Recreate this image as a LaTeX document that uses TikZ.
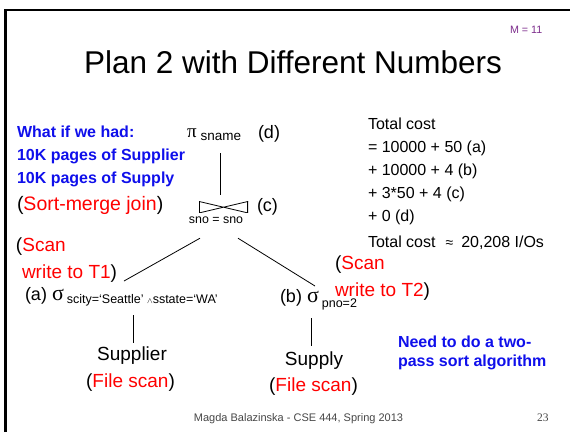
\documentclass[tikz,border=0pt]{standalone}
\usepackage{fontspec}
\usetikzlibrary{calc}
\setmainfont{Liberation Sans}
\newfontfamily\serifgreek{Liberation Serif}
\newcommand\fs[1]{\fontsize{#1}{#1}\selectfont}
\definecolor{slideblue}{RGB}{15,15,235}
\definecolor{slidered}{RGB}{255,0,0}
\definecolor{slidepurple}{RGB}{125,45,140}
\definecolor{footgray}{RGB}{70,70,70}
\tikzset{
  txt/.style={inner sep=0pt, outer sep=0pt, anchor=base west},
  bluebold/.style={txt, text=slideblue, font=\fs{16}\bfseries},
  cost/.style={txt, font=\fs{16}},
  big/.style={txt, font=\fs{19}},
  edge/.style={draw=black, line width=0.8pt},
  bowtie/.style={inner sep=0pt, minimum width=49pt, minimum height=11.5pt,
    path picture={\draw[line width=0.8pt]
      (path picture bounding box.north west) -- (path picture bounding box.south east)
      (path picture bounding box.south west) -- (path picture bounding box.north east);
      \draw[line width=1.1pt]
      (path picture bounding box.north west) -- (path picture bounding box.south west)
      (path picture bounding box.north east) -- (path picture bounding box.south east);}}
}
\begin{document}
\begin{tikzpicture}[x=1pt,y=-1pt]
\useasboundingbox (0,0) rectangle (570,432);
% slide frame
\draw[line width=2.5pt] (5.3,432) -- (5.3,10.2) -- (570,10.2);
% title
\node[txt, font=\fs{31.5}] (title) at (84,73) {Plan 2 with Different Numbers};
\node[txt, text=slidepurple, font=\fs{10.7}] (mnote) at (510,33) {M = 11};
% blue question
\node[bluebold] (q1) at (17,137) {What if we had:};
\node[bluebold] (q2) at (17,160) {10K pages of Supplier};
\node[bluebold] (q3) at (17,183) {10K pages of Supply};
\node[txt, font=\fs{19.5}] (smj) at (17,210) {(\textcolor{slidered}{Sort-merge join})};
% projection
\node[txt, text depth=0pt] (proj) at (187,137.5) {{\serifgreek\fs{19}π}\hspace{4pt}{\fs{13.5}\raisebox{-3.2pt}{sname}}};
\node[txt, font=\fs{18}] (dlab) at (258,138) {(d)};
% join
\node[bowtie] (join) at (223.5,207.2) {};
\node[txt, font=\fs{18}] (clab) at (257,211) {(c)};
\node[inner sep=0pt, anchor=base, text depth=0pt, font=\fs{12.4}] (cond) at (216,223) {sno = sno};
% left scan note
\node[big] (scanl1) at (16,251) {(\textcolor{slidered}{Scan}};
\node[big] (scanl2) at (22,278) {\textcolor{slidered}{write to T1})};
% selection a
\node[txt, font=\fs{18}] (sela) at (25,300) {(a) {\serifgreek\fs{22}σ}\,{\fs{12.5}\raisebox{-3pt}{scity=‘Seattle’ {\fs{8}$\wedge$}sstate=‘WA’}}};
% selection b
\node[txt, font=\fs{18}] (selb) at (280,302) {(b) {\serifgreek\fs{22}σ}\,{\fs{12.5}\raisebox{-5pt}{pno=2}}};
% right scan note
\node[big] (scanr1) at (335,269) {(\textcolor{slidered}{Scan}};
\node[big] (scanr2) at (335,296) {\textcolor{slidered}{write to T2})};
% leaves
\node[inner sep=0pt, anchor=base, font=\fs{19}] (supplier) at (132,360) {Supplier};
\node[inner sep=0pt, anchor=base, font=\fs{19}] (fsa) at (130.5,387) {(\textcolor{slidered}{File scan})};
\node[inner sep=0pt, anchor=base, font=\fs{19}] (supply) at (314,365) {Supply};
\node[inner sep=0pt, anchor=base, font=\fs{19}] (fsb) at (313.5,391) {(\textcolor{slidered}{File scan})};
% cost column
\node[cost] (c1) at (368,129) {Total cost};
\node[cost] (c2) at (368,152) {= 10000 + 50 (a)};
\node[cost] (c3) at (368,175) {+ 10000 + 4 (b)};
\node[cost] (c4) at (368,198) {+ 3*50 + 4 (c)};
\node[cost] (c5) at (368,221) {+ 0 (d)};
\node[cost] (c6) at (368,247) {Total cost\hspace{10pt}{\fs{14}≈}\hspace{8pt}20,208 I/Os};
% note
\node[bluebold] (n1) at (398,347) {Need to do a two-};
\node[bluebold] (n2) at (398,366) {pass sort algorithm};
% footer
\node[inner sep=0pt, anchor=base, text=footgray, font=\fs{11}] (foot) at (298.5,421) {Magda Balazinska - CSE 444, Spring 2013};
\node[txt, text=footgray, font=\serifgreek\fs{11.5}] (pnum) at (537,421) {23};
% connectors
\draw[edge] ($(join.north |- proj.south)+(-2.8,15.5)$) -- ($(join.north)+(-2.8,-6.5)$);
\draw[edge] ($(cond.south)+(-16,15)$) -- ($(sela.base west)+(99,-19)$);
\draw[edge] ($(cond.south)+(22,15)$) -- ($(selb.base west)+(35,-16)$);
\draw[edge] ($(sela.base west)+(108,15)$) -- ($(supplier.base)+(1,-17)$);
\draw[edge] ($(selb.base west)+(31,16)$) -- ($(supply.base)+(-3,-19)$);
\end{tikzpicture}
\end{document}
